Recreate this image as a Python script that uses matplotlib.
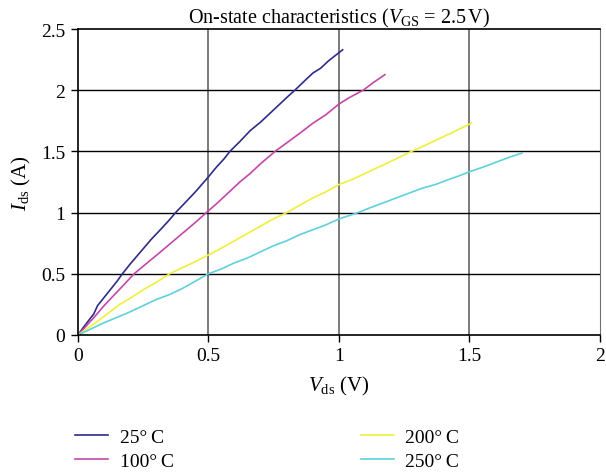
import matplotlib.pyplot as plt

plt.rcParams['font.family'] = 'serif'
plt.rcParams['font.serif'] = ['Liberation Serif', 'DejaVu Serif']
plt.rcParams['mathtext.fontset'] = 'custom'
plt.rcParams['mathtext.rm'] = 'Liberation Serif'
plt.rcParams['mathtext.it'] = 'Liberation Serif:italic'

labels = ['25°\u2009C', '100°\u2009C', '200°\u2009C', '250°\u2009C']
colors = ['#2e2c88', '#c447a8', '#f0ef3a', '#5fd0dc']

v25 = [0, 0.02, 0.045, 0.06, 0.075, 0.09, 0.12, 0.15, 0.17, 0.2, 0.24, 0.28, 0.32, 0.35,
       0.374, 0.41, 0.45, 0.493, 0.53, 0.56, 0.582, 0.62, 0.66, 0.7, 0.74, 0.78, 0.81,
       0.831, 0.87, 0.9, 0.93, 0.96, 0.99, 1.014]
i25 = [0, 0.06, 0.13, 0.17, 0.24, 0.28, 0.36, 0.44, 0.50, 0.58, 0.68, 0.78, 0.87, 0.94,
       1.0, 1.08, 1.17, 1.275, 1.37, 1.44, 1.5, 1.58, 1.67, 1.74, 1.82, 1.90, 1.96,
       2.0, 2.08, 2.14, 2.18, 2.24, 2.29, 2.33]

v100 = [0, 0.03, 0.06, 0.1, 0.14, 0.18, 0.215, 0.26, 0.3, 0.35, 0.4, 0.45, 0.492, 0.54,
        0.58, 0.62, 0.66, 0.7, 0.755, 0.8, 0.851, 0.9, 0.95, 1.0, 1.04, 1.093, 1.13, 1.176]
i100 = [0, 0.07, 0.14, 0.24, 0.33, 0.42, 0.5, 0.58, 0.65, 0.74, 0.83, 0.92, 1.0, 1.09,
        1.17, 1.25, 1.32, 1.40, 1.5, 1.57, 1.65, 1.73, 1.80, 1.887, 1.94, 2.0, 2.06, 2.127]

v200 = [0, 0.04, 0.08, 0.123, 0.16, 0.2, 0.25, 0.3, 0.351, 0.4, 0.45, 0.5, 0.55, 0.6,
        0.65, 0.7, 0.75, 0.8, 0.85, 0.9, 0.95, 1.0, 1.05, 1.1, 1.15, 1.2, 1.278, 1.32,
        1.36, 1.4, 1.45, 1.508]
i200 = [0, 0.06, 0.12, 0.19, 0.25, 0.3, 0.37, 0.43, 0.5, 0.55, 0.6, 0.654, 0.71, 0.77,
        0.83, 0.89, 0.95, 1.0, 1.06, 1.12, 1.17, 1.229, 1.27, 1.32, 1.37, 1.42, 1.5, 1.54,
        1.58, 1.62, 1.67, 1.732]

v250 = [0, 0.05, 0.1, 0.15, 0.187, 0.25, 0.3, 0.35, 0.4, 0.45, 0.5, 0.55, 0.6, 0.65,
        0.7, 0.75, 0.8, 0.85, 0.9, 0.95, 1.0, 1.073, 1.12, 1.17, 1.22, 1.27, 1.32, 1.37,
        1.42, 1.46, 1.5, 1.55, 1.6, 1.65, 1.702]
i250 = [0, 0.05, 0.1, 0.145, 0.177, 0.24, 0.29, 0.33, 0.38, 0.44, 0.5, 0.54, 0.59, 0.63,
        0.68, 0.73, 0.77, 0.82, 0.86, 0.9, 0.948, 1.0, 1.04, 1.08, 1.12, 1.16, 1.2, 1.23,
        1.27, 1.3, 1.334, 1.37, 1.41, 1.45, 1.487]

xticks = [0, 0.5, 1, 1.5, 2]
xticklabels = ['0', '0.5', '1', '1.5', '2']
yticks = [0, 0.5, 1, 1.5, 2, 2.5]
yticklabels = ['0', '0.5', '1', '1.5', '2', '2.5']

fig = plt.figure(figsize=(6.06, 4.77), dpi=100)
ax = fig.add_axes([0.1287, 0.2956, 0.8613, 0.6415])

for v, i, lab, c in zip([v25, v100, v200, v250], [i25, i100, i200, i250], labels, colors):
    ax.plot(v, i, color=c, lw=1.2, label=lab)

ax.set_xlim(0, 2)
ax.set_ylim(0, 2.5)
ax.set_xticks(xticks)
ax.set_xticklabels(xticklabels)
ax.set_yticks(yticks)
ax.set_yticklabels(yticklabels)
ax.tick_params(labelsize=14, length=5, width=1, direction='out', pad=4)

for x in xticks[1:-1]:
    ax.axvline(x, color='#707070', lw=1.3, zorder=0)
for y in yticks[1:-1]:
    ax.axhline(y, color='black', lw=1.0, zorder=0)
for s in ['left', 'bottom', 'top']:
    ax.spines[s].set_linewidth(1.2)
ax.spines['right'].set_color('#707070')

ax.set_xlabel(r'$V_{\mathrm{ds}}$ (V)', fontsize=15, labelpad=7)
ax.set_ylabel(r'$I_{\mathrm{ds}}$ (A)', fontsize=15, labelpad=6)
ax.set_title(r'On-state characteristics ($V_{\mathrm{GS}}$ = 2.5$\,$V)', fontsize=14.5, pad=4)

ax.legend(loc='upper left', bbox_to_anchor=(-0.02, -0.28), ncol=2, frameon=False,
          fontsize=14, handlelength=1.7, handletextpad=0.6, columnspacing=9.6,
          labelspacing=0.3, borderaxespad=0)

fig.savefig('out.png', dpi=100)
